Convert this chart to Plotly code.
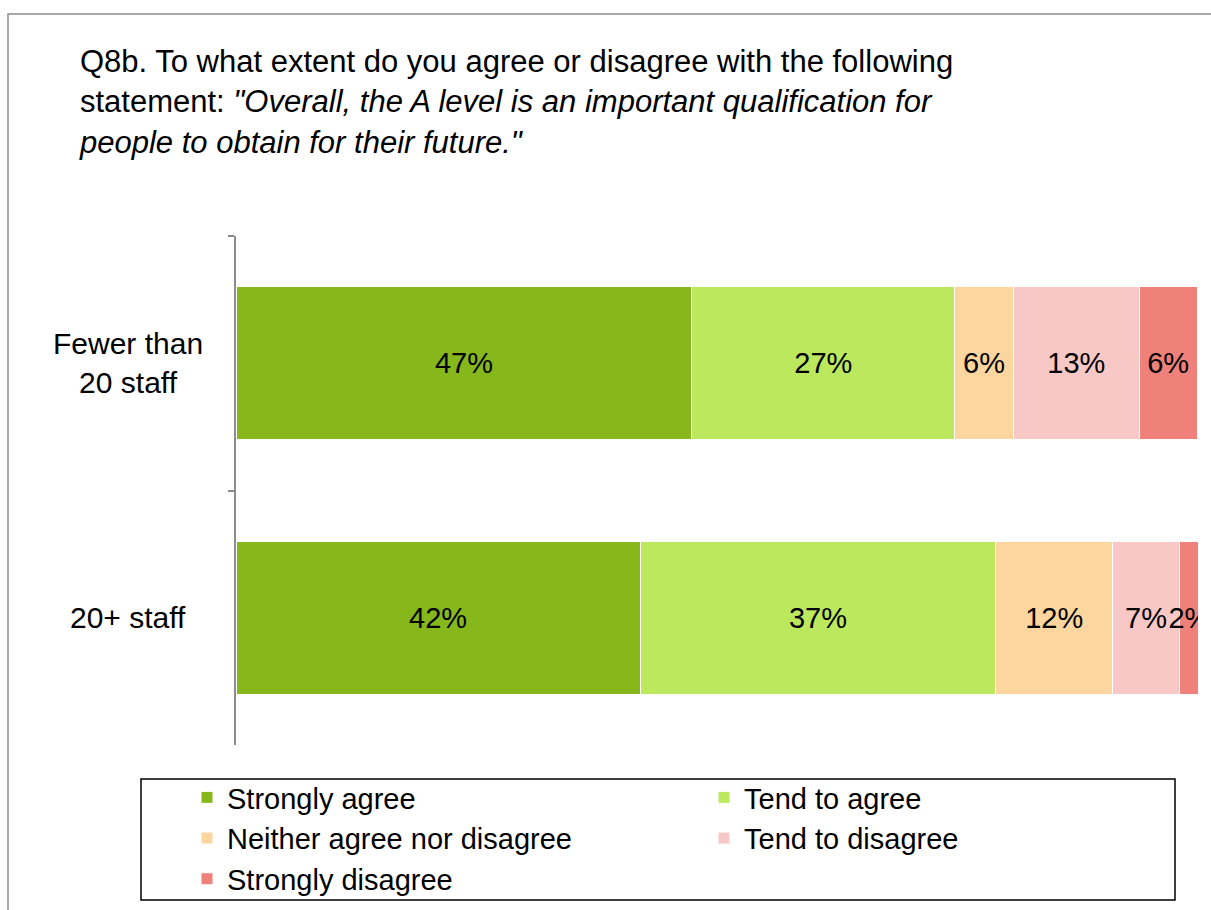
import plotly.graph_objects as go

categories = ["Fewer than 20 staff", "20+ staff"]
category_labels = ["Fewer than<br>20 staff", "20+ staff"]
series_names = ["Strongly agree", "Tend to agree", "Neither agree nor disagree",
                "Tend to disagree", "Strongly disagree"]
strongly_agree = [47.4, 42.0]
tend_to_agree = [27.3, 37.0]
neither = [6.1, 12.1]
tend_to_disagree = [13.1, 7.0]
strongly_disagree = [6.0, 2.0]
series_values = [strongly_agree, tend_to_agree, neither, tend_to_disagree, strongly_disagree]
colors = ["#86B81C", "#BBE85C", "#FDD59E", "#F7C8C6", "#EF807A"]

FONT = "Liberation Sans, Arial, sans-serif"
FS_LABEL = 29
FS_TITLE = 31
FS_LEGEND = 29
FS_CAT = 30

fig = go.Figure()
for name, vals, col in zip(series_names, series_values, colors):
    fig.add_trace(go.Bar(
        y=categories, x=vals, name=name, orientation="h",
        marker=dict(color=col, line=dict(color="white", width=1)),
        text=[f"{round(v):.0f}%" for v in vals],
        textposition="inside", insidetextanchor="middle", textangle=0,
        textfont=dict(family=FONT, size=FS_LABEL, color="black"),
        hoverinfo="skip",
    ))

W, H = 1211, 910
L, R, T, B = 236, 13, 236, 165
pw, ph = W - L - R, H - T - B

def px(x):
    return (x - L) / pw

def py(y):
    return (H - B - y) / ph

shapes = [
    # outer frame
    dict(type="rect", xref="paper", yref="paper", x0=px(8), x1=px(1260), y0=py(960), y1=py(14),
         line=dict(color="#8C8C8C", width=1.5), fillcolor="rgba(0,0,0,0)", layer="below"),
    # legend frame
    dict(type="rect", xref="paper", yref="paper", x0=px(141), x1=px(1175), y0=py(900), y1=py(779),
         line=dict(color="black", width=1.5), fillcolor="rgba(0,0,0,0)"),
]

annotations = []
for cat, lab in zip(categories, category_labels):
    annotations.append(dict(
        x=px(128), xref="paper", y=cat, yref="y", text=lab, showarrow=False,
        xanchor="center", yanchor="middle", align="center",
        font=dict(family=FONT, size=FS_CAT, color="black"),
    ))

fig.update_layout(
    width=W, height=H,
    margin=dict(l=L, r=R, t=T, b=B, autoexpand=False),
    paper_bgcolor="white", plot_bgcolor="white",
    barmode="stack", bargap=0.4,
    font=dict(family=FONT, size=FS_LABEL, color="black"),
    title=dict(
        text='Q8b. To what extent do you agree or disagree with the following<br>'
             'statement: <i>"Overall, the A level is an important qualification for<br>'
             'people to obtain for their future."</i>',
        x=80 / W, xanchor="left", xref="container",
        y=1 - 72 / H, yanchor="top", yref="container",
        font=dict(family=FONT, size=FS_TITLE, color="black"),
    ),
    xaxis=dict(range=[0, 100], visible=False, fixedrange=True),
    yaxis=dict(
        categoryorder="array", categoryarray=categories, autorange="reversed",
        showticklabels=False, showline=True, linecolor="#8C8C8C", linewidth=1.5,
        ticks="outside", tickson="boundaries", ticklen=6, tickcolor="#8C8C8C", tickwidth=1.5,
        showgrid=False, zeroline=False, fixedrange=True,
    ),
    legend=dict(
        orientation="h", x=px(187), xanchor="left", y=py(772), yanchor="top",
        entrywidth=472, bgcolor="rgba(0,0,0,0)", borderwidth=0,
        font=dict(family=FONT, size=FS_LEGEND, color="black"), traceorder="normal",
    ),
    uniformtext=dict(minsize=FS_LABEL, mode="show"),
    shapes=shapes, annotations=annotations,
    showlegend=True,
)

fig.write_html("out.html", config={"displayModeBar": False},
               post_script="document.body.style.margin='0px';")
